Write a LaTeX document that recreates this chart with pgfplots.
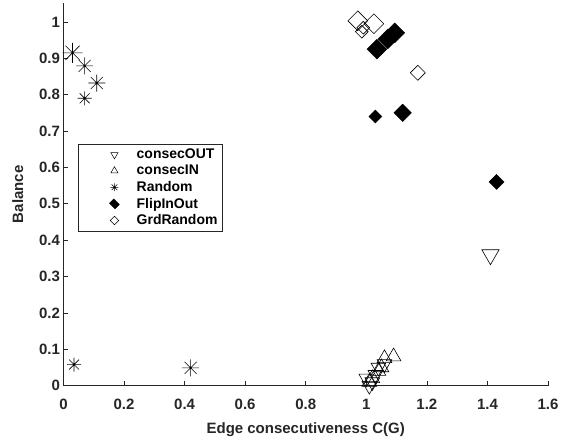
\documentclass[border=0pt]{standalone}
\usepackage{pgfplots}
\pgfplotsset{compat=1.18}
\usepackage{fontspec}
\setmainfont{Liberation Sans}
\pgfdeclareplotmark{star8}{%
  \pgfpathmoveto{\pgfqpoint{-\pgfplotmarksize}{0pt}}\pgfpathlineto{\pgfqpoint{\pgfplotmarksize}{0pt}}%
  \pgfpathmoveto{\pgfqpoint{0pt}{-\pgfplotmarksize}}\pgfpathlineto{\pgfqpoint{0pt}{\pgfplotmarksize}}%
  \pgfpathmoveto{\pgfqpoint{-0.7071\pgfplotmarksize}{-0.7071\pgfplotmarksize}}\pgfpathlineto{\pgfqpoint{0.7071\pgfplotmarksize}{0.7071\pgfplotmarksize}}%
  \pgfpathmoveto{\pgfqpoint{-0.7071\pgfplotmarksize}{0.7071\pgfplotmarksize}}\pgfpathlineto{\pgfqpoint{0.7071\pgfplotmarksize}{-0.7071\pgfplotmarksize}}%
  \pgfusepathqstroke}
\definecolor{axgray}{RGB}{38,38,38}
\begin{document}
\begin{tikzpicture}
\begin{axis}[
  scale only axis, width=485pt, height=383pt,
  xmin=0, xmax=1.6, ymin=0, ymax=1.052,
  xtick={0,0.2,...,1.6}, ytick={0,0.1,...,1.0},
  axis lines=left, axis line style={-, axgray, line width=0.6pt},
  tick align=inside, major tick length=5pt,
  tick style={axgray, line width=0.6pt},
  /pgf/number format/assume math mode=true,
  ticklabel style={font=\fontsize{15}{17}\selectfont\bfseries, text=axgray},
  xticklabel style={yshift=-10pt},
  xlabel={Edge consecutiveness C(G)}, ylabel={Balance},
  label style={font=\fontsize{15}{17}\selectfont\bfseries, text=axgray},
  xlabel style={yshift=-6pt},
  ylabel style={yshift=9pt},
  legend cell align=left,
  legend image code/.code={\path (0pt,0pt) (53pt,0pt); \draw[#1] plot coordinates {(33pt,0pt)};},
  legend style={at={(rel axis cs:0.03,0.632)}, anchor=north west, draw=axgray, line width=0.5pt,
    font=\fontsize{14}{16}\selectfont\bfseries, inner xsep=3pt, inner ysep=3pt, row sep=1pt},
]
\addlegendimage{only marks, mark=triangle, mark size=4.2pt, mark options={rotate=180, black, fill=white, line width=0.5pt}}
\addlegendentry{consecOUT}
\addlegendimage{only marks, mark=triangle, mark size=4.2pt, mark options={black, fill=white, line width=0.5pt}}
\addlegendentry{consecIN}
\addlegendimage{only marks, mark=star8, mark size=4pt, mark options={black, line width=0.5pt}}
\addlegendentry{Random}
\addlegendimage{only marks, mark=square*, mark size=3pt, mark options={rotate=45, black, yscale=1.3}}
\addlegendentry{FlipInOut}
\addlegendimage{only marks, mark=square, mark size=3pt, mark options={rotate=45, black, line width=0.5pt}}
\addlegendentry{GrdRandom}

% consecOUT
\addplot[forget plot, only marks, mark=triangle, mark size=10pt, mark options={rotate=180, black, line width=0.6pt}]
  coordinates {(1.41,0.36)};
\addplot[forget plot, only marks, mark=triangle, mark size=8.5pt, mark options={rotate=180, black, line width=0.6pt}]
  coordinates {(1.06,0.06) (1.04,0.05) (1.03,0.03) (1.02,0.01) (1.00,0.02) (1.01,0.00)};
% consecIN
\addplot[forget plot, only marks, mark=triangle, mark size=8.5pt, mark options={black, line width=0.6pt}]
  coordinates {(1.09,0.08) (1.06,0.075) (1.05,0.05) (1.04,0.04) (1.02,0.02) (1.01,0.01)};
% Random
\addplot[forget plot, only marks, mark=star8, mark size=10pt, mark options={black, line width=0.6pt}]
  coordinates {(0.03,0.915)};
\addplot[forget plot, only marks, mark=star8, mark size=8.5pt, mark options={black, line width=0.6pt}]
  coordinates {(0.07,0.879) (0.11,0.832) (0.42,0.049)};
\addplot[forget plot, only marks, mark=star8, mark size=7pt, mark options={black, line width=0.6pt}]
  coordinates {(0.07,0.79) (0.035,0.058)};
% FlipInOut
\addplot[forget plot, only marks, mark=square*, mark size=7pt, mark options={rotate=45, black}]
  coordinates {(1.035,0.925) (1.071,0.953) (1.094,0.970)};
\addplot[forget plot, only marks, mark=square*, mark size=6.2pt, mark options={rotate=45, black}]
  coordinates {(1.12,0.75)};
\addplot[forget plot, only marks, mark=square*, mark size=5.3pt, mark options={rotate=45, black}]
  coordinates {(1.43,0.56)};
\addplot[forget plot, only marks, mark=square*, mark size=4.6pt, mark options={rotate=45, black}]
  coordinates {(1.03,0.74)};
% GrdRandom
\addplot[forget plot, only marks, mark=square, mark size=7pt, mark options={rotate=45, black, line width=0.6pt}]
  coordinates {(0.972,1.003) (1.025,0.995)};
\addplot[forget plot, only marks, mark=square, mark size=4.5pt, mark options={rotate=45, black, line width=0.6pt}]
  coordinates {(0.985,0.973) (0.99,0.984)};
\addplot[forget plot, only marks, mark=square, mark size=5.3pt, mark options={rotate=45, black, line width=0.6pt}]
  coordinates {(1.17,0.86)};
\end{axis}
\pgfresetboundingbox
\path[use as bounding box] (current axis.south west) ++(-63.5pt,-52pt) rectangle ([xshift=16pt,yshift=3pt]current axis.north east);
\end{tikzpicture}
\end{document}
